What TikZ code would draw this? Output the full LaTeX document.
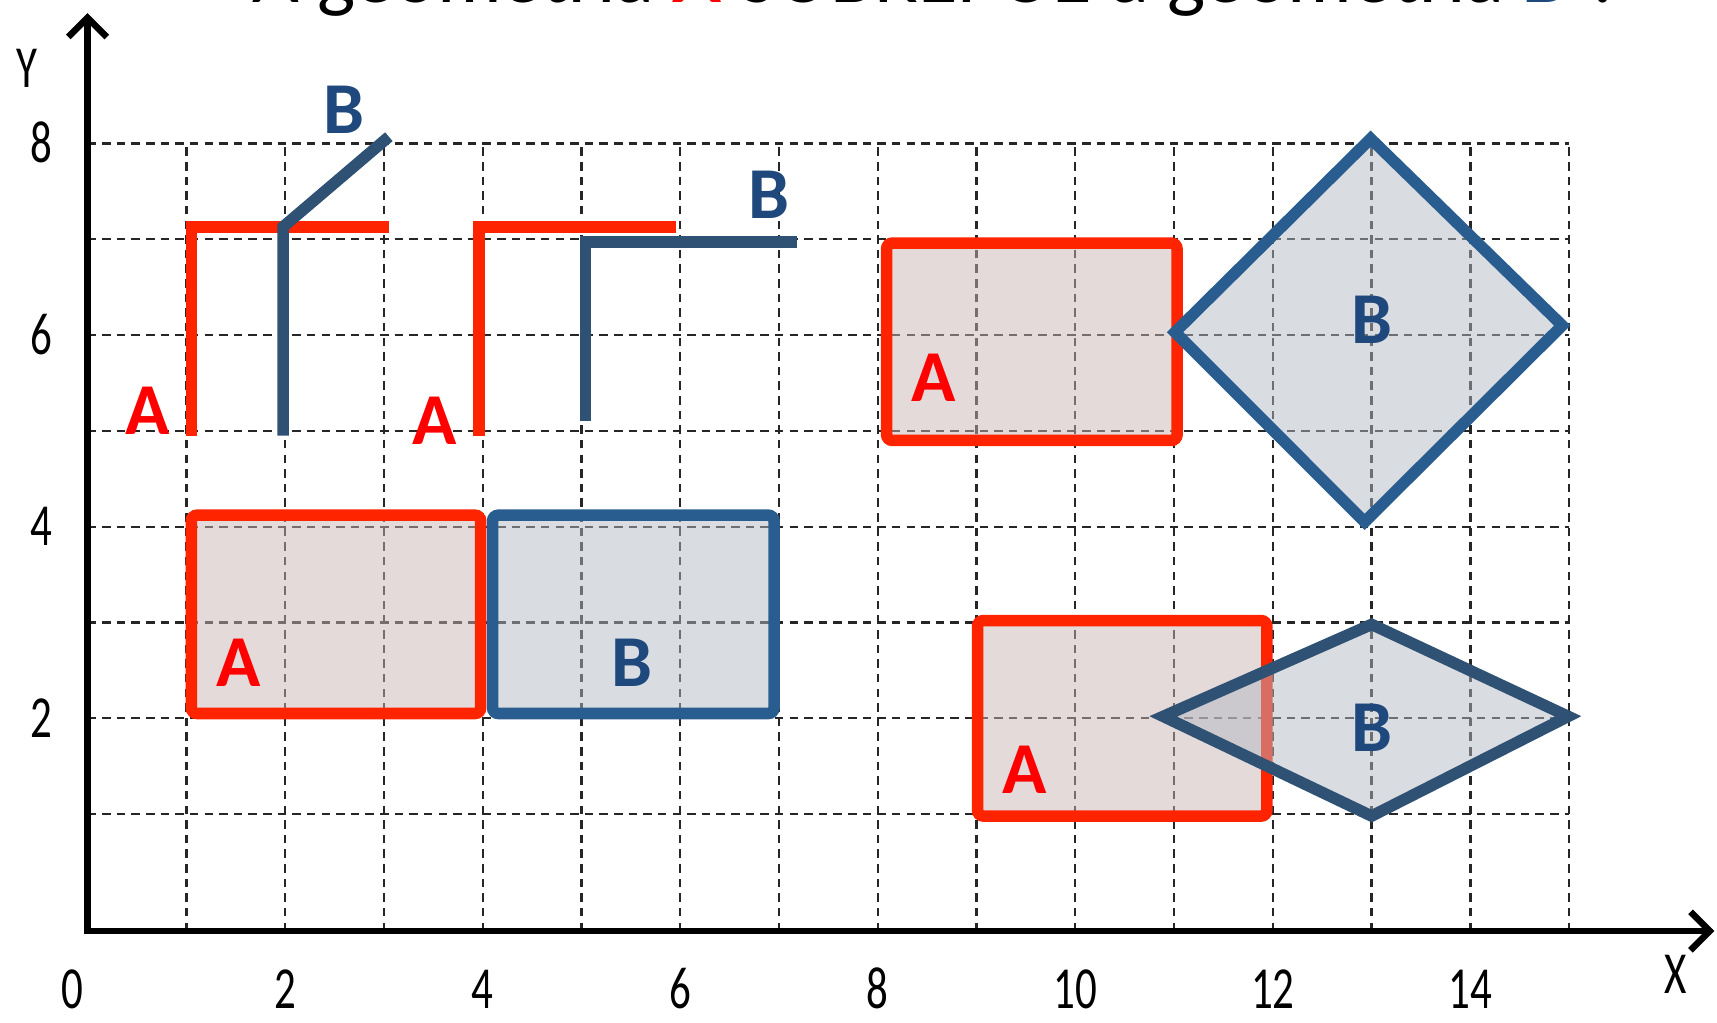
\documentclass[tikz,border=0pt]{standalone}
\usepackage{graphicx}
\usepackage{fontspec}
\setmainfont{Carlito}
\usetikzlibrary{arrows.meta, positioning}
\definecolor{C_A}    {HTML}{FF2400}
\definecolor{C_ATXT} {HTML}{FF0000}
\definecolor{C_AFILL}{HTML}{C9B5B5}
\definecolor{C_B}    {HTML}{2A5D8F}
\definecolor{C_BDARK}{HTML}{2F5274}
\definecolor{C_BTXT} {HTML}{1F497D}
\definecolor{C_BFILL}{HTML}{B3B9C3}
\newcommand{\narrowtxt}[1]{\scalebox{0.72}[1]{#1}}
\tikzset{
  %% -- dashed background grid --
  geo/grid/.style={draw=black!85, line width=0.6pt, dash pattern=on 2.2pt off 1.6pt},
  %% -- coordinate axes --
  geo/axis/.style={line width=1.7pt, {Straight Barb[length=5pt,width=10pt]}-{Straight Barb[length=5pt,width=10pt]}},
  %% -- axis numbers and names (placed by their base line) --
  geo/tick/.style={font=\fontsize{15.5}{15.5}\selectfont, inner sep=0pt, text depth=0pt, anchor=base},
  %% -- line geometries --
  geo/lineA/.style={draw=C_A, line width=3pt},
  geo/lineB/.style={draw=C_BDARK, line width=3pt},
  %% -- polygon geometries --
  geo/regA/.style={draw=C_A, line width=3pt, fill=C_AFILL, fill opacity=0.5, rounded corners=1.5pt},
  geo/regB/.style={draw=C_B, line width=3pt, fill=C_BFILL, fill opacity=0.5},
  %% -- geometry labels --
  geo/lblA/.style={text=C_ATXT, font=\fontsize{19}{19}\selectfont\bfseries},
  geo/lblB/.style={text=C_BTXT, font=\fontsize{19}{19}\selectfont\bfseries},
}

\begin{document}
\begin{tikzpicture}[x=0.902cm, y=0.875cm]
\useasboundingbox (-0.887,-1.177) rectangle (16.497,9.497);

%% Title (cut by the page edge)
\node[anchor=base, font=\fontsize{21}{21}\selectfont] (title) at (8.61,9.47)
  {A geometria {\color{C_ATXT}\bfseries A} SOBREPÕE a geometria {\color{C_BTXT}\bfseries B} ?};

%% Grid
\foreach \x in {1,...,15}
  \draw[geo/grid] (\x,-0.22) -- (\x,8);
\foreach \y in {1,...,8}
  \draw[geo/grid] (0,\y) -- (15,\y);

%% Axes
\coordinate (O)    at (0,-0.22);
\coordinate (xend) at (16.47,-0.22);
\coordinate (yend) at (0,9.36);
\draw[geo/axis] (yend) -- (O) -- (xend);
\node[geo/tick] (ylbl) at (-0.61,8.58) {\narrowtxt{Y}};
\node[geo/tick] (xlbl) at (16.08,-0.87) {\narrowtxt{X}};
\node[geo/tick] (tx0) at (-0.15,-1.03) {\narrowtxt{0}};
\foreach \v in {2,4,...,14}
  \node[geo/tick] (tx\v) at (\v,-1.03) {\narrowtxt{\v}};
\foreach \v in {2,4,6,8}
  \node[geo/tick] (ty\v) at (-0.47,\v-0.2) {\narrowtxt{\v}};

%% Lines: touching at an end point
\draw[geo/lineA] (1.05,4.95) -- (1.05,7.13) -- (3.05,7.13);
\draw[geo/lineB] (1.98,4.95) -- (1.98,7.13) -- (3.05,8.07);
\node[geo/lblA] (a1) at (0.61,5.21) {A};
\node[geo/lblB] (b1) at (2.60,8.35) {B};

%% Lines: side by side
\draw[geo/lineA] (3.96,4.95) -- (3.96,7.13) -- (5.96,7.13);
\draw[geo/lineB] (5.04,5.10) -- (5.04,6.97) -- (7.18,6.97);
\node[geo/lblA] (a2) at (3.51,5.10) {A};
\node[geo/lblB] (b2) at (6.90,7.46) {B};

%% Rectangles sharing a side
\draw[geo/regA] (1.05,2.05) rectangle (3.98,4.12);
\draw[geo/regB, rounded corners=1.5pt] (4.10,2.05) rectangle (6.95,4.12);
\node[geo/lblA] (a3) at (1.53,2.58) {A};
\node[geo/lblB] (b3) at (5.51,2.58) {B};

%% Rectangle and diamond touching at a vertex
\draw[geo/regA] (8.09,4.90) rectangle (11.03,6.96);
\draw[geo/regB] (12.99,8.05) -- (14.93,6.10) -- (12.93,4.05) -- (11.01,6.03) -- cycle;
\node[geo/lblA] (a4) at (8.57,5.55) {A};
\node[geo/lblB] (b4) at (13.00,6.16) {B};

%% Rectangle and diamond overlapping
\draw[geo/regA] (9.01,0.98) rectangle (11.94,3.02);
\draw[geo/regB, draw=C_BDARK] (13.00,2.98) -- (14.99,2.02) -- (13.00,0.98) -- (10.89,2.02) -- cycle;
\node[geo/lblA] (a5) at (9.49,1.46) {A};
\node[geo/lblB] (b5) at (13.00,1.90) {B};
\end{tikzpicture}
\end{document}
